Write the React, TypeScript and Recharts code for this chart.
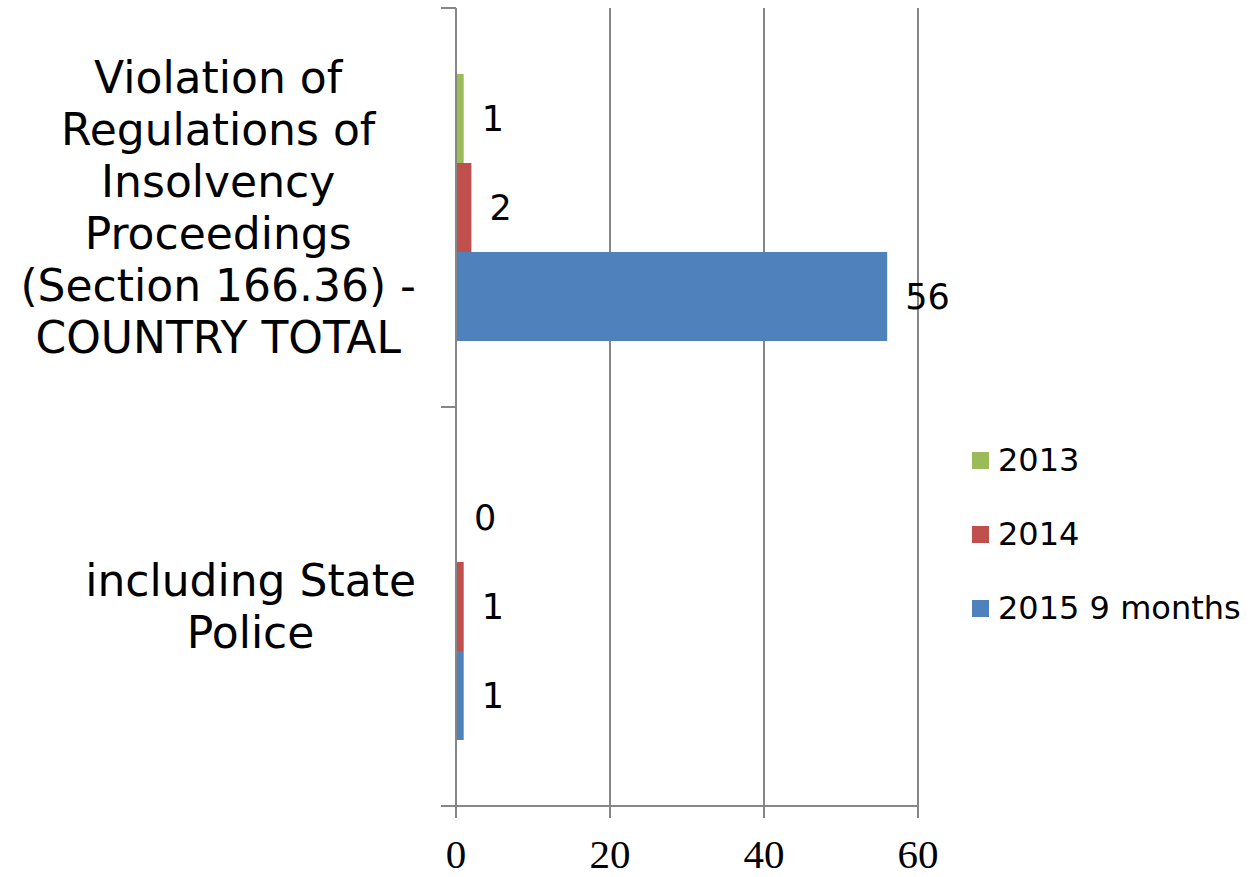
import { BarChart, Bar, XAxis, YAxis, CartesianGrid, Legend, LabelList } from 'recharts';

// categories (line breaks as in the original wrapped labels)
const categories = [
    'Violation of\nRegulations of\nInsolvency\nProceedings\n(Section 166.36) -\nCOUNTRY TOTAL',
    'including State\nPolice',
];
const values2013 = [1, 0];
const values2014 = [2, 1];
const values2015 = [56, 1];
const seriesNames = ['2013', '2014', '2015 9 months'];
const seriesKeys = ['y2013', 'y2014', 'y2015'];
const seriesColors = ['#9BBB59', '#C0504D', '#4F81BD'];
const xTicks = [0, 20, 40, 60];

const data = categories.map((name, i) => ({
    name,
    y2013: values2013[i],
    y2014: values2014[i],
    y2015: values2015[i],
}));

const W = 1257;
const H = 877;
const PLOT_TOP = 8;
const X_AXIS_H = 71;
const BAND = (H - PLOT_TOP - X_AXIS_H) / categories.length;
const GRID = '#868686';
const SANS = "'DejaVu Sans', Verdana, sans-serif";
const CAT_FONT = 44;
const LINE_H = 52;

let ctx: CanvasRenderingContext2D | null = null;
const measure = (s: string) => {
    if (!ctx) ctx = document.createElement('canvas').getContext('2d');
    if (!ctx) return s.length * CAT_FONT * 0.6;
    ctx.font = `${CAT_FONT}px 'DejaVu Sans'`;
    return ctx.measureText(s).width;
};

// wrapped category label: lines centred in a block whose right edge sits at the tick position
const CategoryTick = (props: any) => {
    const { x, y, payload } = props;
    const lines = String(payload.value).split('\n');
    const widest = Math.max(...lines.map(measure));
    const cx = x - widest / 2;
    const top = y - ((lines.length - 1) * LINE_H) / 2;
    return (
        <g>
            <text textAnchor="middle" fontFamily={SANS} fontSize={CAT_FONT} fill="#000">
                {lines.map((l, i) => (
                    <tspan key={i} x={cx} y={top + i * LINE_H} dy="0.35em">
                        {l}
                    </tspan>
                ))}
            </text>
            <line x1={x + 25} x2={x + 40} y1={y - BAND / 2} y2={y - BAND / 2} stroke={GRID} strokeWidth={2} />
            <line x1={x + 25} x2={x + 40} y1={y + BAND / 2} y2={y + BAND / 2} stroke={GRID} strokeWidth={2} />
        </g>
    );
};

const renderLegend = () => (
    <div style={{ fontFamily: SANS, fontSize: 32, color: '#000' }}>
        {seriesNames.map((n, i) => (
            <div key={n} style={{ display: 'flex', alignItems: 'center', height: 74 }}>
                <span style={{ width: 17, height: 17, background: seriesColors[i], marginRight: 9, display: 'inline-block' }} />
                <span>{n}</span>
            </div>
        ))}
    </div>
);

const App = () => {
    return (
        <div style={{ position: 'absolute', left: 0, top: 0, width: W, height: H, background: '#fff' }}>
            <BarChart
                width={W}
                height={H}
                data={data}
                layout="vertical"
                margin={{ top: PLOT_TOP, right: 54, bottom: 0, left: 0 }}
                barCategoryGap={66}
                barGap={0}
            >
                <CartesianGrid horizontal={false} stroke={GRID} strokeWidth={2} />
                <XAxis
                    type="number"
                    domain={[0, 60]}
                    ticks={xTicks}
                    height={X_AXIS_H}
                    tickSize={12}
                    tickMargin={21}
                    axisLine={{ stroke: GRID, strokeWidth: 2 }}
                    tickLine={{ stroke: GRID, strokeWidth: 2 }}
                    tick={{ fill: '#000', fontSize: 41, fontFamily: "'Liberation Serif', 'Times New Roman', serif" }}
                />
                <YAxis
                    type="category"
                    dataKey="name"
                    width={456}
                    tickSize={15}
                    tickMargin={25}
                    tickLine={false}
                    axisLine={{ stroke: GRID, strokeWidth: 2 }}
                    tick={<CategoryTick />}
                    interval={0}
                />
                <Legend
                    layout="vertical"
                    align="right"
                    verticalAlign="middle"
                    width={285}
                    content={renderLegend}
                    wrapperStyle={{ left: 972, top: 423, right: 'auto' }}
                />
                {seriesKeys.map((k, i) => (
                    <Bar
                        key={k}
                        dataKey={k}
                        name={seriesNames[i]}
                        fill={seriesColors[i]}
                        minPointSize={0.01}
                        isAnimationActive={false}
                    >
                        <LabelList
                            dataKey={k}
                            position="right"
                            offset={18}
                            fill="#000"
                            fontSize={35}
                            fontFamily={SANS}
                        />
                    </Bar>
                ))}
            </BarChart>
        </div>
    );
};

export default App;
